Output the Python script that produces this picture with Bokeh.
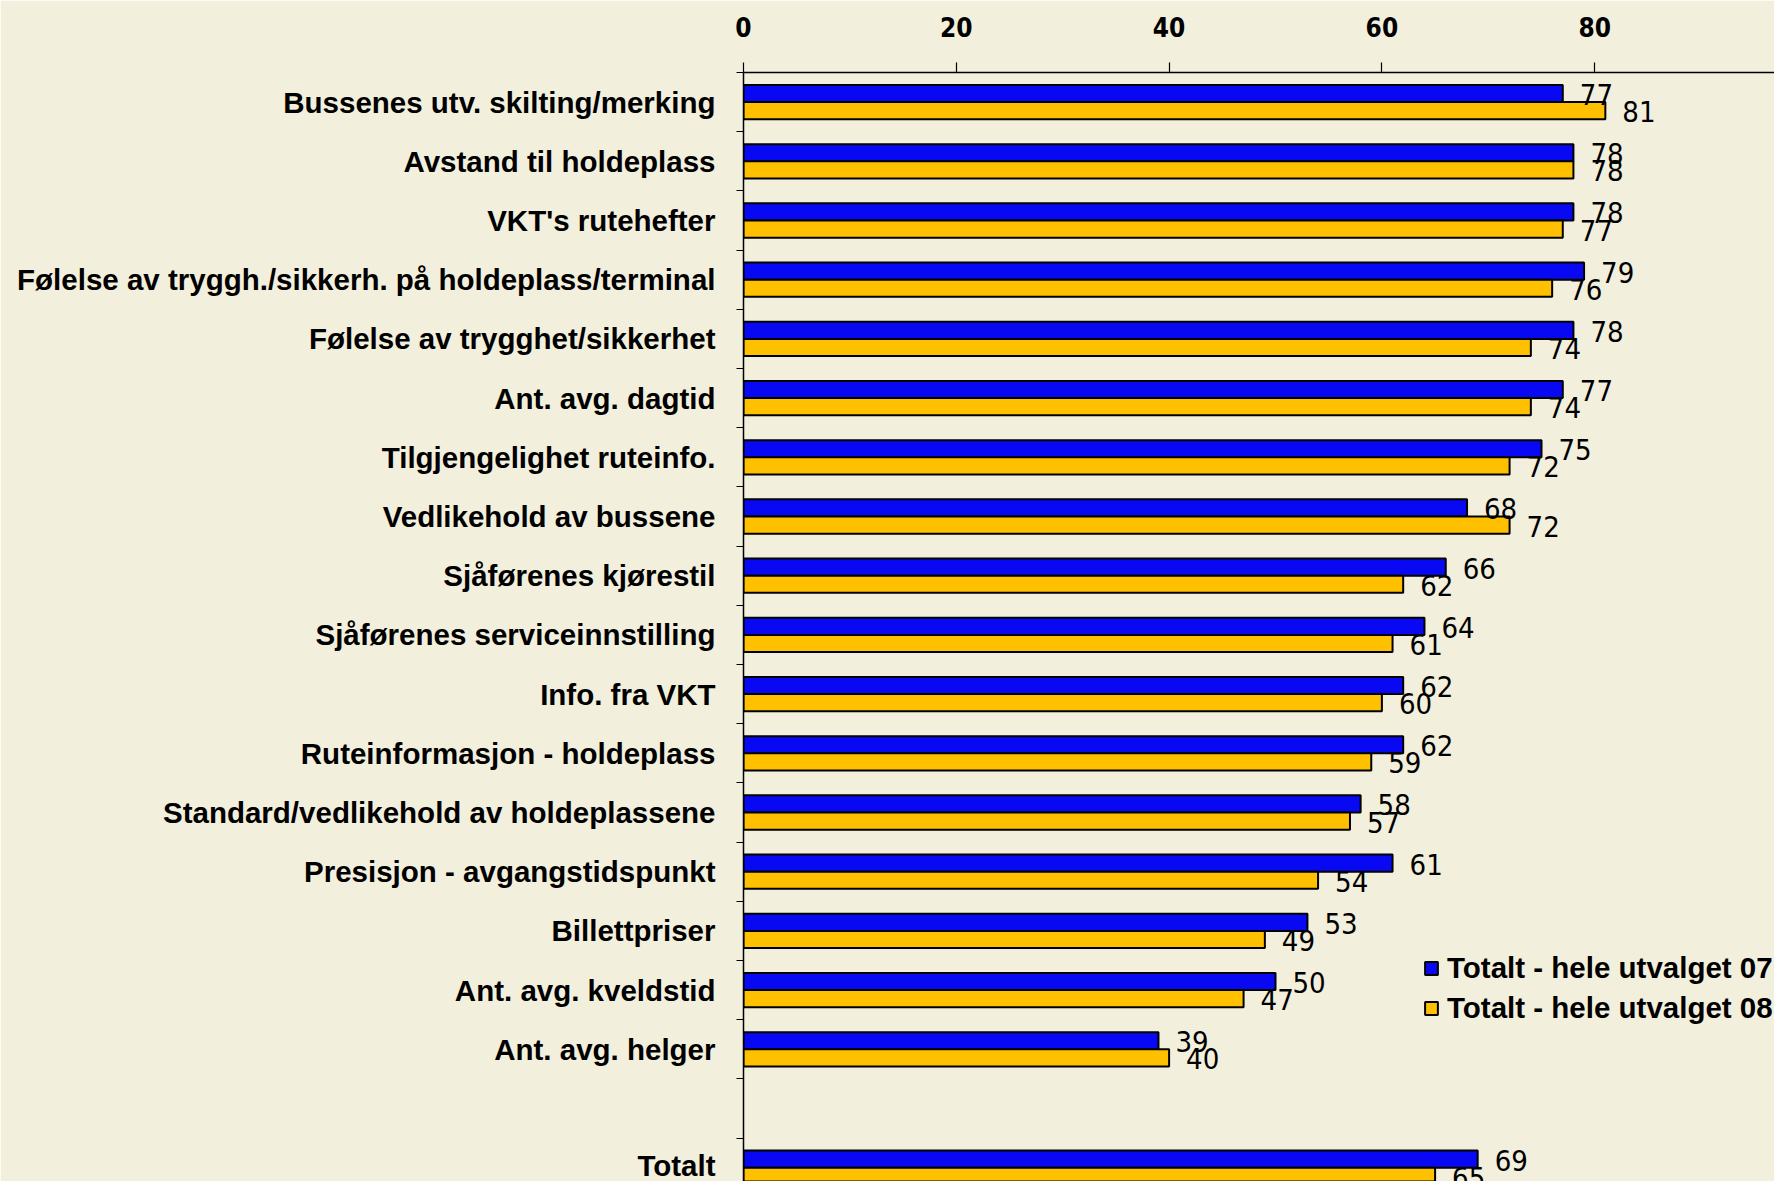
from bokeh.plotting import figure
from bokeh.models import ColumnDataSource, Range1d, FixedTicker, Legend, LegendItem, CustomJSTickFormatter
from bokeh.core.properties import value
from bokeh.embed import file_html
from bokeh.resources import INLINE

categories = [
    "Bussenes utv. skilting/merking",
    "Avstand til holdeplass",
    "VKT's rutehefter",
    "Følelse av tryggh./sikkerh. på holdeplass/terminal",
    "Følelse av trygghet/sikkerhet",
    "Ant. avg. dagtid",
    "Tilgjengelighet ruteinfo.",
    "Vedlikehold av bussene",
    "Sjåførenes kjørestil",
    "Sjåførenes serviceinnstilling",
    "Info. fra VKT",
    "Ruteinformasjon - holdeplass",
    "Standard/vedlikehold av holdeplassene",
    "Presisjon - avgangstidspunkt",
    "Billettpriser",
    "Ant. avg. kveldstid",
    "Ant. avg. helger",
    "",
    "Totalt",
]
values_07 = [77, 78, 78, 79, 78, 77, 75, 68, 66, 64, 62, 62, 58, 61, 53, 50, 39, None, 69]
values_08 = [81, 78, 77, 76, 74, 74, 72, 72, 62, 61, 60, 59, 57, 54, 49, 47, 40, None, 65]
series_names = ["Totalt - hele utvalget 07", "Totalt - hele utvalget 08"]
x_ticks = [0, 20, 40, 60, 80]

BG = "#F2EFDC"
BLUE = "#0808F2"
YELLOW = "#FFC000"

W, H = 1774, 1181
LEFT, TOP = 743, 72
px_per_unit = 10.64
px_per_slot = 59.2
bar_h = 0.29

x_end = (W - LEFT) / px_per_unit
y_top = 0.5
y_bottom = y_top - (H - TOP) / px_per_slot

rows = [i for i, v in enumerate(values_07) if v is not None]
src07 = ColumnDataSource(dict(
    y=[-i + bar_h / 2 for i in rows],
    v=[values_07[i] for i in rows],
    t=[str(values_07[i]) for i in rows],
))
src08 = ColumnDataSource(dict(
    y=[-i - bar_h / 2 for i in rows],
    v=[values_08[i] for i in rows],
    t=[str(values_08[i]) for i in rows],
))

p = figure(width=W, height=H, output_backend="svg", toolbar_location=None,
           x_range=Range1d(0, x_end), y_range=Range1d(y_bottom, y_top),
           x_axis_location="above",
           min_border_left=LEFT, min_border_top=TOP, min_border_right=0, min_border_bottom=0,
           background_fill_color=BG, border_fill_color=BG, outline_line_color=None)

r07 = p.hbar(y="y", right="v", left=0, height=bar_h, source=src07,
             fill_color=BLUE, line_color="black", line_width=2)
r08 = p.hbar(y="y", right="v", left=0, height=bar_h, source=src08,
             fill_color=YELLOW, line_color="black", line_width=2)

narrow = "DejaVu Sans Condensed, Liberation Sans, sans-serif"
for src in (src07, src08):
    p.text(x="v", y="y", text="t", source=src, x_offset=17, y_offset=1,
           text_align="left", text_baseline="middle",
           text_font=value(narrow), text_font_size="29px", text_color="black")

p.xgrid.visible = False
p.ygrid.visible = False

# top x axis
xa = p.xaxis[0]
xa.ticker = FixedTicker(ticks=x_ticks, minor_ticks=[])
xa.axis_line_color = "black"
xa.axis_line_width = 1.5
xa.major_tick_out = 10
xa.major_tick_in = 0
xa.major_tick_line_width = 1.2
xa.minor_tick_line_color = None
xa.major_label_standoff = 26
xa.major_label_text_font = narrow
xa.major_label_text_font_size = "26px"
xa.major_label_text_font_style = "bold"
xa.major_label_text_color = "black"

# left category axis
centers = [-i for i in range(len(categories))]
bounds = [-i + 0.5 for i in range(len(categories) + 1)]
ya = p.yaxis[0]
ya.ticker = FixedTicker(ticks=centers, minor_ticks=bounds)
ya.formatter = CustomJSTickFormatter(args=dict(cats=categories),
                                     code="return cats[Math.round(-tick)] || '';")
ya.axis_line_color = "black"
ya.axis_line_width = 1.5
ya.major_tick_out = 0
ya.major_tick_in = 0
ya.minor_tick_out = 7
ya.minor_tick_in = 0
ya.minor_tick_line_color = "black"
ya.minor_tick_line_width = 1.2
ya.major_label_standoff = 21
ya.major_label_text_font = "Liberation Sans"
ya.major_label_text_font_size = "29.5px"
ya.major_label_text_font_style = "bold"
ya.major_label_text_color = "black"

legend = Legend(items=[LegendItem(label=series_names[0], renderers=[r07]),
                       LegendItem(label=series_names[1], renderers=[r08])],
                location=(680, 156), orientation="vertical",
                background_fill_alpha=0, border_line_color=None,
                glyph_width=16, glyph_height=16, label_height=30, spacing=6,
                padding=0, margin=0, label_standoff=8,
                label_text_font="Liberation Sans", label_text_font_style="bold",
                label_text_font_size="29.5px", label_text_color="black")
p.add_layout(legend)

open("out.html", "w").write(file_html(p, INLINE))
